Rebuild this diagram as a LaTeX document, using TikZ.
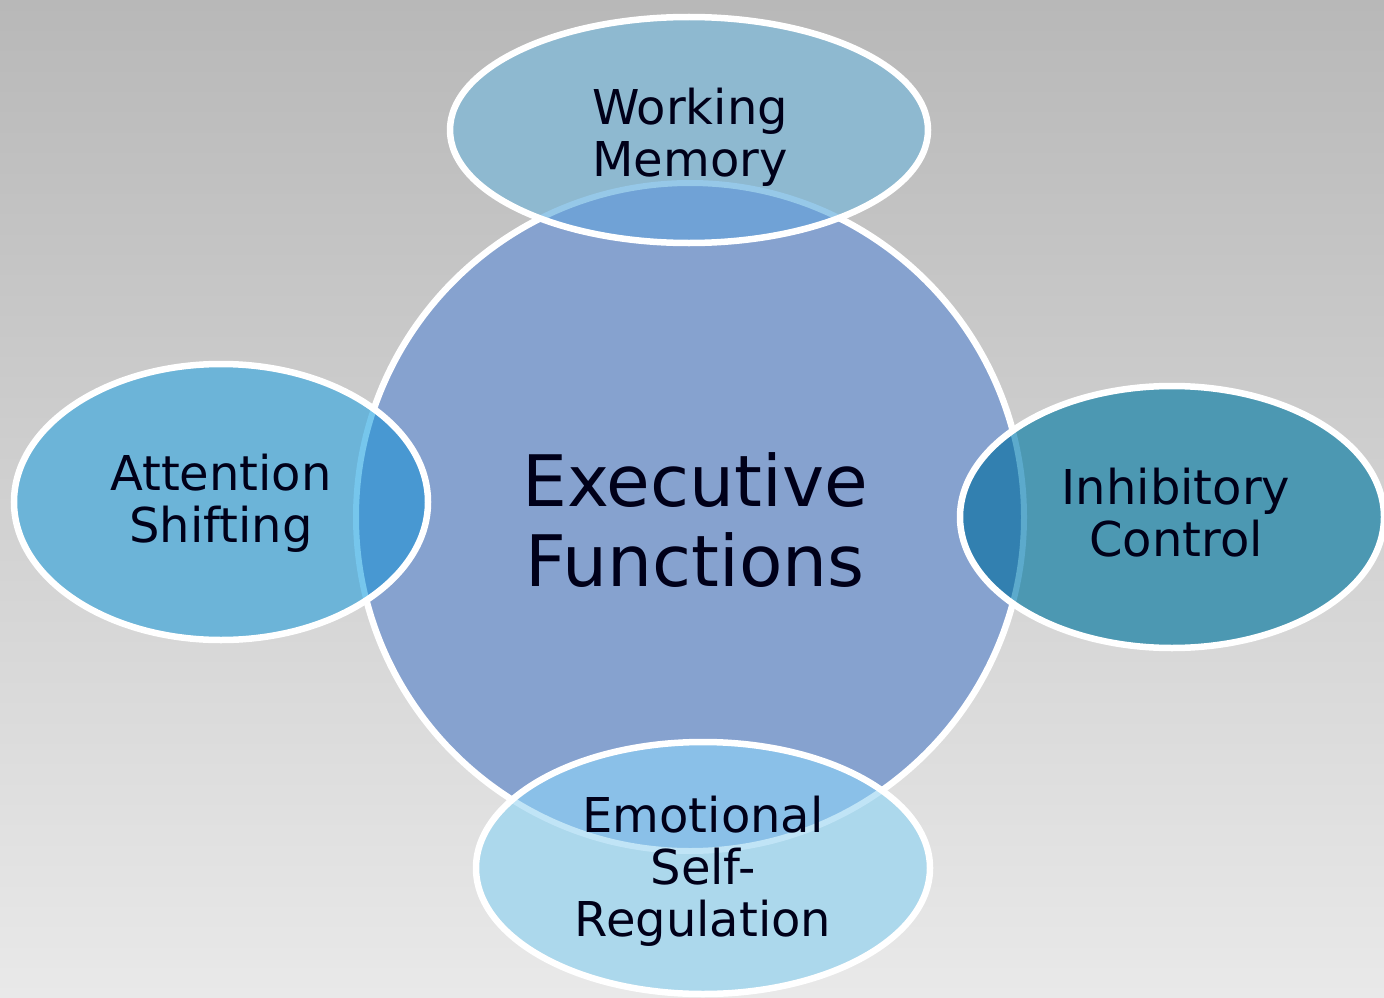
\documentclass[tikz,border=0pt]{standalone}
\usepackage{fontspec}
\setmainfont{DejaVu Sans}
\begin{document}
\begin{tikzpicture}[x=1pt,y=-1pt,
  lbl/.style={align=center,text=black!90!blue,font=\fontsize{48}{52}\selectfont,inner sep=0pt},
  bigl/.style={align=center,text=black!90!blue,font=\fontsize{71}{80}\selectfont,inner sep=0pt},
  rim/.style={draw=white,line width=6.5pt}]
\definecolor{bgtop}{RGB}{184,184,184}
\definecolor{bgbot}{RGB}{233,233,233}
\definecolor{circ}{RGB}{134,162,207}
\definecolor{wmc}{RGB}{142,185,208}
\definecolor{wmo}{RGB}{112,162,214}
\definecolor{wml}{RGB}{150,200,232}
\definecolor{asc}{RGB}{108,180,216}
\definecolor{aso}{RGB}{72,152,210}
\definecolor{asl}{RGB}{118,198,236}
\definecolor{icc}{RGB}{76,152,178}
\definecolor{ico}{RGB}{50,128,176}
\definecolor{icl}{RGB}{92,170,204}
\definecolor{esc}{RGB}{172,216,236}
\definecolor{eso}{RGB}{138,192,232}
\definecolor{esl}{RGB}{192,228,246}
% background
\shade[top color=bgtop,bottom color=bgbot] (0,0) rectangle (1384,998);
\useasboundingbox (0,0) rectangle (1384,998);
% central circle
\fill[circ] (690,517) circle[radius=334pt];
\draw[rim] (690,517) circle[radius=334pt];
% satellites: fill, overlap, seen-through circle rim, own rim
\foreach \cx/\cy/\rx/\ry/\fc/\oc/\lc in {689/130/239/113/wmc/wmo/wml, 221/502/207/138/asc/aso/asl, 1172/517/212/131/icc/ico/icl, 703/868/227/126/esc/eso/esl}{
  \fill[\fc] (\cx,\cy) ellipse[x radius=\rx pt,y radius=\ry pt];
  \begin{scope}
    \clip (\cx,\cy) ellipse[x radius=\rx pt,y radius=\ry pt];
    \fill[\oc] (690,517) circle[radius=334pt];
    \draw[\lc,line width=6pt] (690,517) circle[radius=334pt];
  \end{scope}
  \draw[rim] (\cx,\cy) ellipse[x radius=\rx pt,y radius=\ry pt];
}
% labels
\node[bigl] (ef) at (695,520) {Executive\\Functions};
\node[lbl] (wm) at (690,137) {Working\\Memory};
\node[lbl] (as) at (221,503) {Attention\\Shifting};
\node[lbl] (ic) at (1176,513) {Inhibitory\\Control};
\node[lbl] (es) at (703,871) {Emotional\\Self-\\Regulation};
\end{tikzpicture}
\end{document}
